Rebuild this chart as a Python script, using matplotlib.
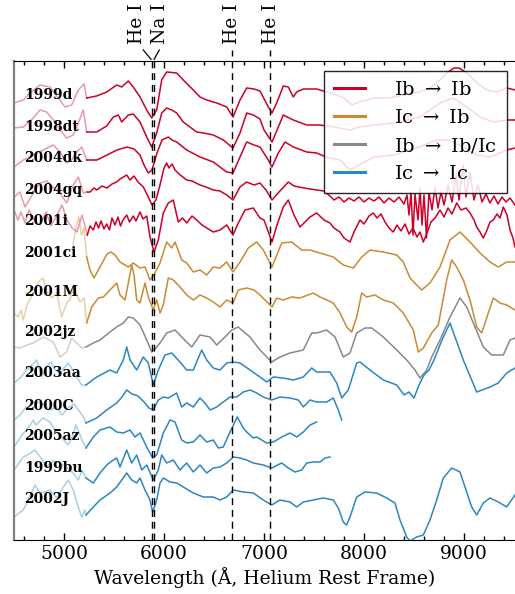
import matplotlib

matplotlib.use("Agg")
import matplotlib.pyplot as plt
import numpy as np
from matplotlib.lines import Line2D

plt.rcParams["font.family"] = ["DejaVu Serif"]
plt.rcParams["mathtext.fontset"] = "dejavuserif"

# wavelength (A) and stacked flux (arbitrary units)
WL_1999D = [4500, 4593, 4660, 4760, 4860, 4960, 5010, 5077, 5143, 5200, 5227, 5327, 5427, 5527, 5577, 5643,
            5693, 5760, 5827, 5877, 5927, 5977, 6027, 6127, 6193, 6293, 6360, 6427, 6527, 6627, 6690, 6760,
            6827, 6900, 6960, 7043, 7080, 7127, 7193, 7243, 7293, 7327, 7393, 7527, 7627, 7700, 7800, 7880,
            7950, 8100, 8250, 8400, 8550, 8660, 8760, 8830, 8900, 8950, 9030, 9130, 9230, 9330, 9430, 9510]
FLUX_1999D = [43.7, 44.0, 44.7, 45.5, 45.3, 44.0, 43.3, 43.5, 45.0, 45.6, 44.2, 44.4, 44.8, 45.5, 45.3, 45.9,
              45.3, 44.3, 43.0, 42.2, 43.0, 46.0, 46.8, 46.7, 46.0, 45.0, 44.3, 44.0, 43.7, 43.3, 42.3, 44.0,
              45.2, 45.1, 44.9, 43.3, 42.7, 43.7, 45.4, 45.3, 44.3, 44.8, 45.1, 45.1, 44.8, 44.6, 44.2, 43.5,
              43.8, 44.2, 44.2, 44.5, 44.8, 45.2, 46.0, 46.7, 47.2, 47.2, 46.7, 45.7, 45.0, 44.8, 45.2, 45.0]

WL_1998DT = [4500, 4593, 4693, 4760, 4827, 4893, 4960, 5027, 5093, 5143, 5193, 5227, 5327, 5427, 5493, 5543,
             5577, 5643, 5693, 5760, 5827, 5877, 5927, 5977, 6027, 6077, 6127, 6193, 6260, 6327, 6393, 6493,
             6593, 6690, 6760, 6827, 6893, 6960, 7000, 7080, 7143, 7193, 7293, 7427, 7560, 7700, 7860, 7950,
             8100, 8300, 8560, 8760, 8893, 9027, 9160, 9293, 9427, 9510]
FLUX_1998DT = [41.2, 41.3, 42.2, 43.0, 42.8, 42.0, 41.0, 40.2, 40.5, 41.7, 43.0, 40.8, 40.8, 41.4, 42.3, 42.5,
               41.8, 42.5, 42.6, 41.8, 40.3, 39.3, 40.7, 42.7, 43.2, 43.0, 42.7, 41.8, 41.3, 40.8, 40.7, 40.5,
               40.0, 39.2, 40.7, 42.7, 42.5, 42.1, 41.0, 39.8, 41.3, 42.5, 42.0, 41.5, 41.5, 41.3, 41.0, 41.3,
               41.5, 41.7, 42.3, 43.7, 44.2, 43.3, 42.3, 41.8, 42.0, 42.0]

WL_2004DK = [4500, 4593, 4693, 4793, 4893, 4960, 5027, 5077, 5127, 5177, 5227, 5330, 5430, 5530, 5630, 5700,
             5760, 5800, 5843, 5880, 5930, 5980, 6043, 6080, 6127, 6227, 6360, 6493, 6627, 6690, 6760, 6827,
             6900, 6960, 7043, 7080, 7143, 7210, 7293, 7427, 7527, 7620, 7760, 7860, 7950, 8100, 8300, 8527,
             8727, 8850, 8993, 9127, 9260, 9427, 9510]
FLUX_2004DK = [37.3, 38.0, 38.5, 39.0, 39.5, 38.8, 37.7, 38.0, 38.8, 39.3, 38.0, 38.0, 38.5, 39.0, 39.3, 39.1,
               38.5, 37.5, 36.7, 37.0, 38.7, 40.0, 40.3, 40.0, 39.8, 39.0, 38.3, 37.8, 36.8, 36.7, 38.3, 39.8,
               39.5, 39.3, 38.0, 37.3, 38.7, 39.8, 39.3, 38.8, 38.7, 38.3, 38.0, 37.0, 37.5, 38.3, 38.5, 39.2,
               40.0, 40.0, 39.3, 38.5, 38.3, 39.0, 39.2]

WL_2004GQ = [4500, 4560, 4610, 4693, 4760, 4830, 4900, 4960, 5027, 5093, 5143, 5193, 5233, 5260, 5300, 5327,
             5380, 5430, 5480, 5527, 5560, 5593, 5627, 5660, 5700, 5740, 5793, 5843, 5880, 5920, 5960, 6000,
             6027, 6050, 6080, 6110, 6150, 6227, 6280, 6360, 6420, 6493, 6560, 6627, 6690, 6760, 6827, 6900,
             6960, 7020, 7080, 7150, 7243, 7300, 7400, 7527, 7600, 7660, 7700, 7750, 7800, 7850, 7900, 7950,
             8000, 8050, 8100, 8150, 8200, 8250, 8300, 8350, 8400, 8430, 8450, 8470, 8490, 8510, 8540, 8560,
             8580, 8600, 8625, 8650, 8680, 8710, 8740, 8770, 8800, 8840, 8880, 8920, 8950, 8990, 9020, 9060,
             9100, 9140, 9180, 9220, 9260, 9300, 9340, 9380, 9420, 9460, 9510]
FLUX_2004GQ = [34.3, 34.8, 33.3, 34.7, 35.7, 35.9, 35.2, 34.7, 33.7, 35.5, 36.3, 34.7, 34.8, 34.8, 35.2, 35.0,
               35.4, 35.2, 35.6, 35.8, 36.1, 36.3, 36.5, 36.0, 36.4, 35.8, 35.3, 34.3, 33.5, 34.0, 35.5, 37.2,
               37.7, 37.2, 37.6, 37.0, 36.6, 36.0, 35.9, 35.5, 35.3, 35.0, 34.9, 34.5, 34.0, 35.3, 35.8, 35.5,
               35.7, 35.0, 34.0, 34.8, 35.8, 35.4, 35.2, 35.0, 34.9, 34.4, 34.0, 34.3, 33.8, 34.2, 33.9, 34.3,
               33.8, 34.2, 33.9, 34.3, 33.7, 34.2, 33.8, 34.3, 33.6, 34.5, 32.5, 34.8, 30.5, 34.6, 32.0, 35.2,
               31.5, 34.5, 30.2, 34.8, 33.0, 35.3, 33.2, 34.8, 33.5, 35.5, 33.8, 36.5, 34.0, 37.5, 34.3, 36.8,
               34.0, 35.5, 33.8, 34.6, 33.7, 34.4, 33.6, 34.3, 33.8, 34.2, 33.5]

WL_2001I = [4500, 4540, 4570, 4610, 4650, 4700, 4760, 4820, 4870, 4920, 4980, 5030, 5080, 5130, 5180, 5233,
            5260, 5293, 5320, 5345, 5370, 5400, 5427, 5455, 5480, 5510, 5540, 5565, 5590, 5627, 5655, 5693,
            5720, 5760, 5790, 5827, 5860, 5900, 5943, 5993, 6043, 6093, 6143, 6185, 6227, 6280, 6327, 6380,
            6427, 6493, 6560, 6627, 6690, 6743, 6810, 6893, 6960, 7000, 7080, 7130, 7193, 7243, 7300, 7360,
            7460, 7527, 7600, 7660, 7700, 7760, 7800, 7860, 7900, 7960, 8000, 8050, 8093, 8130, 8170, 8210,
            8250, 8293, 8330, 8370, 8410, 8450, 8490, 8530, 8560, 8593, 8630, 8670, 8710, 8760, 8800, 8840,
            8880, 8927, 8970, 9020, 9060, 9100, 9127, 9160, 9193, 9230, 9260, 9293, 9330, 9360, 9393, 9430,
            9460, 9490, 9510]
FLUX_2001I = [33.0, 32.0, 32.8, 31.7, 33.0, 32.0, 31.5, 32.8, 31.4, 32.3, 33.5, 32.0, 31.2, 30.8, 32.5, 30.5,
              31.4, 31.0, 31.8, 31.2, 31.9, 31.1, 31.6, 31.0, 32.2, 31.5, 32.3, 31.4, 32.0, 32.5, 31.8, 32.4,
              31.9, 32.8, 32.1, 32.4, 30.3, 28.8, 30.0, 32.7, 33.7, 34.0, 31.8, 32.2, 31.7, 32.4, 32.0, 31.5,
              31.2, 30.8, 31.0, 31.5, 30.5, 31.7, 33.0, 33.2, 32.2, 32.0, 29.8, 31.5, 33.3, 34.0, 32.5, 31.3,
              32.3, 32.7, 32.0, 31.7, 31.2, 30.8, 30.2, 29.8, 30.8, 32.0, 31.6, 32.4, 32.7, 32.2, 32.6, 31.8,
              31.2, 30.8, 31.5, 30.9, 31.6, 30.6, 31.2, 30.3, 30.8, 29.8, 30.7, 31.8, 32.2, 33.0, 32.3, 33.2,
              32.6, 33.7, 33.0, 33.2, 32.7, 32.0, 31.3, 30.8, 30.2, 31.0, 31.8, 32.0, 32.6, 32.2, 33.3, 32.5,
              31.0, 30.2, 29.3]

WL_2001CI = [5090, 5120, 5150, 5175, 5200, 5227, 5260, 5300, 5360, 5430, 5470, 5510, 5560, 5643, 5693, 5760,
             5810, 5860, 5900, 5960, 6027, 6077, 6110, 6177, 6227, 6293, 6360, 6427, 6493, 6560, 6627, 6690,
             6760, 6843, 6927, 6993, 7080, 7177, 7277, 7377, 7460, 7560, 7693, 7793, 7893, 7977, 8060, 8193,
             8327, 8393, 8460, 8527, 8577, 8660, 8760, 8860, 8960, 9060, 9160, 9260, 9343, 9427, 9510]
FLUX_2001CI = [29.5, 31.3, 32.3, 30.5, 31.2, 28.3, 27.0, 26.2, 27.3, 28.6, 28.8, 28.5, 27.8, 27.3, 27.7, 27.2,
               27.3, 26.0, 26.5, 27.7, 29.8, 29.2, 29.8, 28.0, 27.7, 26.8, 27.0, 26.5, 27.3, 27.2, 27.8, 26.8,
               27.8, 29.2, 29.8, 29.0, 27.3, 29.7, 29.8, 29.0, 29.0, 28.7, 28.3, 27.5, 27.2, 28.3, 29.0, 28.8,
               28.5, 27.8, 26.2, 25.5, 25.0, 25.7, 27.3, 30.0, 30.8, 29.8, 28.7, 27.8, 27.3, 27.8, 27.8]

WL_2001M = [4500, 4540, 4570, 4593, 4630, 4693, 4760, 4793, 4827, 4877, 4927, 4977, 5027, 5060, 5093, 5130,
            5160, 5200, 5227, 5277, 5343, 5393, 5460, 5527, 5560, 5610, 5643, 5677, 5700, 5727, 5760, 5810,
            5843, 5893, 5927, 5960, 5993, 6043, 6093, 6160, 6227, 6293, 6360, 6427, 6493, 6560, 6627, 6690,
            6743, 6827, 6900, 6960, 7080, 7127, 7193, 7277, 7360, 7493, 7560, 7693, 7760, 7827, 7877, 7927,
            7977, 8027, 8110, 8193, 8293, 8393, 8493, 8543, 8593, 8677, 8743, 8827, 8877, 8927, 8993, 9060,
            9127, 9177, 9243, 9293, 9360, 9427, 9510]
FLUX_2001M = [22.7, 22.3, 23.0, 22.0, 23.5, 24.7, 26.0, 26.2, 24.8, 24.2, 24.7, 22.3, 23.7, 24.0, 25.3, 24.5,
              23.8, 24.2, 21.7, 23.3, 24.2, 24.3, 25.0, 25.7, 24.5, 24.0, 25.7, 27.5, 26.5, 24.0, 23.7, 25.7,
              24.3, 23.0, 24.0, 22.7, 23.5, 26.2, 26.0, 25.3, 24.5, 24.0, 24.5, 24.2, 23.8, 23.3, 24.0, 23.7,
              25.0, 25.2, 25.0, 24.5, 23.3, 24.2, 24.0, 24.3, 24.2, 24.7, 24.3, 23.7, 22.7, 21.3, 20.8, 22.3,
              24.7, 24.3, 24.5, 24.0, 23.7, 22.7, 21.0, 18.8, 19.2, 20.7, 21.5, 26.0, 28.0, 27.3, 26.0, 24.0,
              21.3, 20.7, 22.7, 24.2, 23.7, 23.5, 23.0]

WL_2002JZ = [4500, 4560, 4630, 4693, 4793, 4893, 4960, 5027, 5077, 5127, 5177, 5220, 5293, 5360, 5460, 5527,
             5593, 5643, 5693, 5760, 5827, 5877, 5927, 5960, 6027, 6110, 6177, 6277, 6360, 6460, 6527, 6610,
             6677, 6743, 6810, 6860, 6960, 7077, 7160, 7260, 7393, 7477, 7527, 7627, 7710, 7793, 7860, 7927,
             8010, 8077, 8193, 8327, 8427, 8510, 8560, 8627, 8677, 8760, 8860, 8960, 9027, 9093, 9193, 9277,
             9393, 9460, 9510]
FLUX_2002JZ = [19.3, 19.2, 19.5, 19.7, 20.3, 19.8, 18.3, 18.8, 20.2, 19.7, 19.2, 19.3, 19.7, 20.0, 20.8, 21.3,
               21.7, 22.3, 22.2, 21.5, 20.0, 18.8, 19.3, 19.7, 20.7, 21.0, 20.3, 19.3, 20.5, 20.3, 19.5, 20.3,
               21.0, 21.3, 20.7, 20.3, 19.0, 17.8, 18.3, 18.7, 19.0, 20.7, 20.7, 21.0, 20.3, 18.3, 18.7, 20.7,
               21.2, 21.2, 20.3, 19.0, 18.0, 17.0, 16.2, 17.0, 18.3, 20.0, 22.3, 24.2, 23.3, 21.7, 19.3, 18.5,
               18.5, 20.0, 20.2]

WL_2003AA = [4500, 4560, 4627, 4680, 4727, 4777, 4820, 4870, 4910, 4960, 5043, 5100, 5127, 5177, 5220, 5327,
             5460, 5527, 5593, 5627, 5660, 5727, 5793, 5843, 5893, 5943, 6010, 6077, 6160, 6227, 6293, 6377,
             6427, 6493, 6560, 6627, 6693, 6760, 6860, 6960, 7027, 7093, 7193, 7293, 7393, 7477, 7527, 7660,
             7727, 7777, 7843, 7927, 7960, 8060, 8193, 8327, 8400, 8450, 8500, 8550, 8600, 8650, 8700, 8780,
             8860, 8993, 9127, 9260, 9343, 9427, 9510]
FLUX_2003AA = [15.7, 16.2, 17.0, 17.5, 18.0, 16.3, 17.3, 17.8, 17.0, 16.7, 17.7, 16.8, 16.3, 15.5, 15.5, 16.3,
               17.0, 16.7, 18.0, 19.3, 18.0, 17.0, 18.3, 17.7, 15.5, 17.0, 18.5, 18.7, 17.8, 17.0, 17.0, 19.0,
               18.0, 17.2, 17.0, 17.7, 17.8, 17.7, 17.0, 16.3, 15.8, 16.3, 16.2, 16.0, 16.3, 17.2, 16.8, 16.8,
               15.7, 14.2, 15.0, 17.7, 17.8, 17.0, 16.0, 15.5, 14.5, 14.8, 14.2, 15.5, 16.5, 17.0, 18.0, 20.0,
               21.7, 18.0, 14.8, 15.3, 15.7, 16.7, 17.2]

WL_2000C = [4500, 4560, 4620, 4680, 4740, 4800, 4860, 4920, 4980, 5040, 5100, 5160, 5200, 5220, 5327, 5427,
            5527, 5580, 5627, 5680, 5740, 5800, 5850, 5893, 5943, 5993, 6043, 6093, 6127, 6177, 6227, 6293,
            6360, 6410, 6460, 6527, 6593, 6660, 6727, 6793, 6860, 6927, 6993, 7077, 7160, 7260, 7343, 7393,
            7460, 7527, 7627, 7693, 7743, 7777]
FLUX_2000C = [12.0, 12.5, 13.3, 13.0, 13.8, 13.5, 13.0, 13.3, 12.5, 13.2, 13.6, 12.8, 12.2, 11.7, 12.2, 13.0,
              13.7, 14.3, 15.0, 14.6, 14.4, 13.8, 13.2, 13.0, 14.0, 14.3, 14.2, 14.5, 14.7, 13.3, 13.7, 13.3,
              14.2, 13.7, 13.0, 13.3, 13.8, 14.3, 14.3, 14.8, 15.0, 14.7, 14.3, 14.0, 14.3, 14.2, 14.0, 13.3,
              14.0, 13.8, 13.8, 14.2, 13.0, 12.0]

WL_2005AZ = [4500, 4580, 4650, 4693, 4720, 4790, 4860, 4920, 4980, 5043, 5090, 5120, 5180, 5220, 5293, 5360,
             5460, 5527, 5593, 5660, 5710, 5760, 5827, 5887, 5927, 5993, 6060, 6110, 6177, 6227, 6293, 6360,
             6427, 6493, 6543, 6593, 6660, 6733, 6793, 6827, 6893, 6927, 7027, 7093, 7177, 7260, 7327, 7393,
             7460, 7527]
FLUX_2005AZ = [9.3, 10.5, 11.3, 12.0, 11.5, 12.2, 11.8, 10.8, 10.2, 9.5, 10.5, 11.5, 10.0, 9.2, 10.3, 11.0,
               11.3, 10.8, 10.7, 11.0, 10.3, 10.7, 9.3, 8.2, 8.5, 10.7, 12.0, 11.8, 10.0, 9.7, 9.8, 10.5,
               9.8, 10.0, 9.2, 9.3, 10.8, 12.3, 11.2, 10.8, 10.2, 10.3, 9.7, 9.8, 10.3, 10.7, 10.3, 10.8,
               11.5, 11.8]

WL_1999BU = [4500, 4593, 4650, 4710, 4770, 4827, 4890, 4960, 5030, 5093, 5143, 5180, 5220, 5293, 5360, 5427,
             5493, 5527, 5560, 5627, 5677, 5727, 5777, 5827, 5893, 5943, 5977, 6027, 6093, 6160, 6227, 6293,
             6360, 6427, 6493, 6560, 6627, 6693, 6760, 6827, 6893, 6993, 7077, 7177, 7243, 7310, 7377, 7427,
             7493, 7560, 7610, 7660]
FLUX_1999BU = [7.0, 8.3, 8.6, 9.0, 8.2, 7.3, 7.9, 7.7, 7.2, 6.7, 6.0, 7.0, 6.2, 5.7, 6.7, 7.5,
               8.0, 8.2, 7.3, 9.0, 7.7, 8.5, 7.0, 7.5, 6.0, 7.0, 8.5, 7.7, 8.0, 7.0, 7.7, 6.8,
               7.5, 6.7, 7.2, 7.3, 7.7, 8.3, 8.2, 8.0, 7.7, 7.5, 7.2, 7.7, 7.2, 6.8, 7.0, 7.7,
               7.8, 7.8, 8.2, 8.3]

WL_2002J = [4500, 4593, 4650, 4710, 4760, 4810, 4860, 4927, 4993, 5043, 5093, 5143, 5177, 5210, 5220, 5293,
            5360, 5460, 5527, 5577, 5627, 5677, 5727, 5760, 5810, 5860, 5887, 5927, 5960, 5993, 6060, 6127,
            6210, 6293, 6393, 6493, 6560, 6627, 6693, 6793, 6893, 6993, 7077, 7160, 7260, 7327, 7393, 7493,
            7593, 7693, 7743, 7793, 7827, 7860, 7927, 8010, 8127, 8227, 8310, 8360, 8427, 8460, 8527, 8593,
            8660, 8727, 8793, 8877, 8960, 9010, 9077, 9127, 9193, 9260, 9343, 9427, 9510]
FLUX_2002J = [2.3, 3.0, 4.2, 5.5, 4.7, 4.8, 5.0, 4.2, 5.3, 6.0, 5.0, 3.3, 2.3, 3.0, 2.5, 3.3,
              4.0, 4.7, 5.3, 6.0, 6.7, 6.0, 5.7, 6.2, 5.0, 4.0, 2.8, 4.0, 5.7, 6.2, 5.8, 5.7,
              5.2, 4.7, 4.3, 4.3, 4.0, 4.3, 5.0, 4.8, 4.7, 4.0, 3.5, 4.0, 3.8, 3.3, 3.8, 4.0,
              4.2, 4.0, 3.2, 1.8, 1.5, 2.3, 4.3, 4.8, 4.7, 4.2, 3.7, 2.0, 0.3, -0.1, 0.3, 0.5,
              2.0, 4.0, 6.2, 7.2, 6.8, 5.3, 3.3, 2.5, 3.7, 4.2, 3.8, 3.3, 4.5]

SN_NAMES = ["1999d", "1998dt", "2004dk", "2004gq", "2001i", "2001ci", "2001M",
            "2002jz", "2003aa", "2000C", "2005az", "1999bu", "2002J"]
SN_CLASS = ["Ib_Ib", "Ib_Ib", "Ib_Ib", "Ib_Ib", "Ib_Ib", "Ic_Ib", "Ic_Ib",
            "Ib_IbIc", "Ic_Ic", "Ic_Ic", "Ic_Ic", "Ic_Ic", "Ic_Ic"]
LABEL_Y = [44.5, 41.3, 38.2, 35.0, 31.9, 28.7, 24.8, 20.8, 16.7, 13.4, 10.4, 7.2, 4.1]

CLASS_ORDER = ["Ib_Ib", "Ic_Ib", "Ib_IbIc", "Ic_Ic"]
CLASS_LABELS = {
    "Ib_Ib": r"Ib $\rightarrow$ Ib",
    "Ic_Ib": r"Ic $\rightarrow$ Ib",
    "Ib_IbIc": r"Ib $\rightarrow$ Ib/Ic",
    "Ic_Ic": r"Ic $\rightarrow$ Ic",
}
CLASS_COLORS = {
    "Ib_Ib": "#cc0029",
    "Ic_Ib": "#c98a34",
    "Ib_IbIc": "#898989",
    "Ic_Ic": "#2b86c4",
}

LINES = [5876, 5895, 6678, 7065]
CUT = 5215  # blueward of this the spectra are drawn faded

SPECTRA = [
    (WL_1999D, FLUX_1999D), (WL_1998DT, FLUX_1998DT), (WL_2004DK, FLUX_2004DK),
    (WL_2004GQ, FLUX_2004GQ), (WL_2001I, FLUX_2001I), (WL_2001CI, FLUX_2001CI),
    (WL_2001M, FLUX_2001M), (WL_2002JZ, FLUX_2002JZ), (WL_2003AA, FLUX_2003AA),
    (WL_2000C, FLUX_2000C), (WL_2005AZ, FLUX_2005AZ), (WL_1999BU, FLUX_1999BU),
    (WL_2002J, FLUX_2002J),
]

fig = plt.figure(figsize=(5.15, 5.94), dpi=100)
ax = fig.add_axes([14 / 515, 1 - 540 / 594, 501 / 515, 479 / 594])

for (wl, flux), name, cls, ly in zip(SPECTRA, SN_NAMES, SN_CLASS, LABEL_Y):
    wl = np.asarray(wl, float)
    flux = np.asarray(flux, float)
    color = CLASS_COLORS[cls]
    i = np.searchsorted(wl, CUT)
    ax.plot(wl[:i + 1], flux[:i + 1], color=color, lw=1.1, alpha=0.4, zorder=2)
    ax.plot(wl[i:], flux[i:], color=color, lw=1.1, zorder=3)
    ax.text(4605, ly, name, fontsize=10, fontweight="bold", va="center", ha="left", zorder=4)

ax.set_xlim(4500, 9510)
ax.set_ylim(0, 47.9)

# line identifications
for lam in LINES:
    top = 48.07 if lam < 6000 else 49.0
    ax.plot([lam, lam], [0, top], color="black", ls=(0, (5, 3.5)), lw=1.0, clip_on=False, zorder=5)
ax.plot([5793, 5870], [49.0, 48.07], color="black", lw=0.9, clip_on=False)
ax.plot([5953, 5901], [49.0, 48.07], color="black", lw=0.9, clip_on=False)
for lam, txt in [(5735, "He I"), (5962, "Na I"), (6680, "He I"), (7068, "He I")]:
    ax.text(lam, 49.55, txt, rotation=90, ha="center", va="bottom", fontsize=13.5, clip_on=False)

ax.set_yticks([])
ax.set_xticks([5000, 6000, 7000, 8000, 9000])
ax.set_xticks(np.arange(4600, 9600, 200), minor=True)
ax.tick_params(axis="x", which="both", direction="in", top=True, labelsize=13.5)
ax.tick_params(axis="x", which="major", length=5, width=1)
ax.tick_params(axis="x", which="minor", length=3, width=1)
ax.set_xlabel("Wavelength (Å, Helium Rest Frame)", fontsize=13.5, labelpad=3)
ax.spines["left"].set_color("#808080")
ax.spines["left"].set_linewidth(1.6)
ax.spines["right"].set_visible(False)

handles = [Line2D([], [], color=CLASS_COLORS[c], lw=2.2) for c in CLASS_ORDER]
leg = ax.legend(handles, [CLASS_LABELS[c] for c in CLASS_ORDER], loc="upper right",
                bbox_to_anchor=(0.984, 0.979), borderaxespad=0, fontsize=14, frameon=True,
                fancybox=False, framealpha=0.85, edgecolor="black", handlelength=1.6,
                handletextpad=1.5, labelspacing=0.5, borderpad=0.5)
leg.get_frame().set_linewidth(1.0)
leg.set_zorder(6)

fig.savefig("out.png", dpi=100)
